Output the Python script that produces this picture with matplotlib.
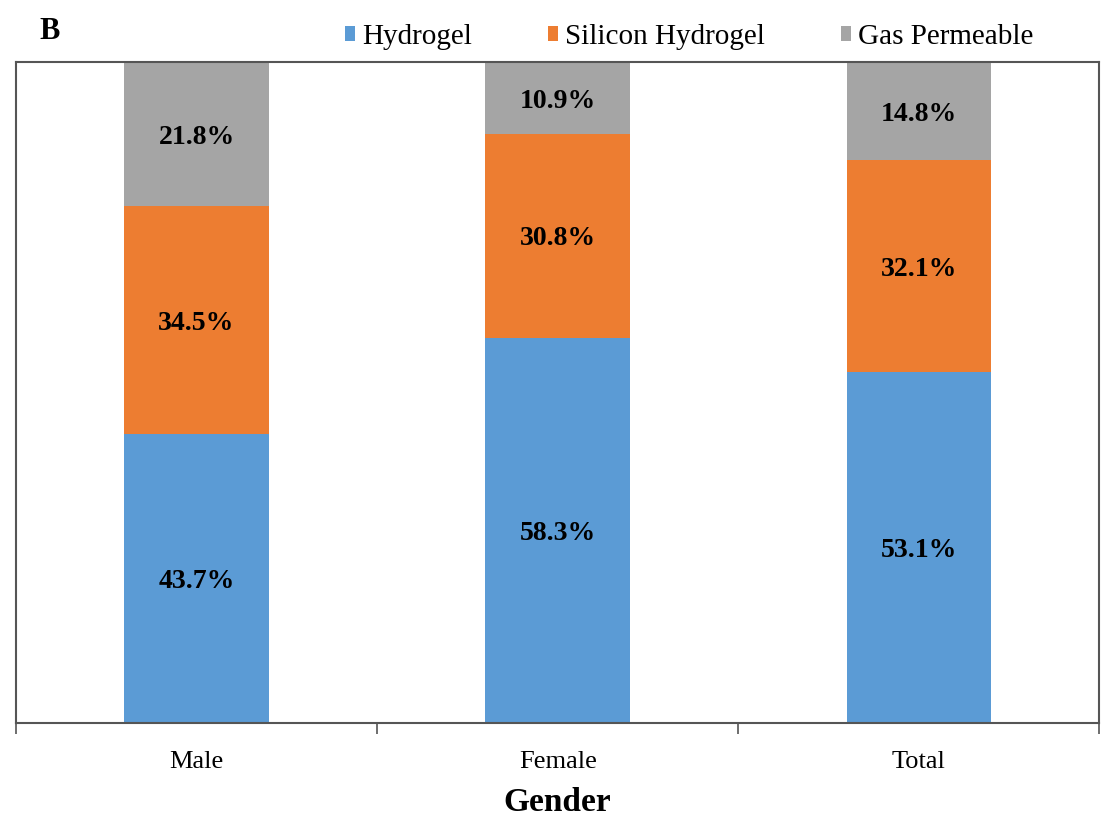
import numpy as np
import matplotlib.pyplot as plt

plt.rcParams['font.family'] = ['Liberation Serif', 'DejaVu Serif']

groups = ['Male', 'Female', 'Total']
hydrogel = [43.7, 58.3, 53.1]
silicon = [34.5, 30.8, 32.1]
gas = [21.8, 10.9, 14.8]
series = ['Hydrogel', 'Silicon Hydrogel', 'Gas Permeable']
colors = ['#5B9BD5', '#ED7D31', '#A5A5A5']

fig = plt.figure(figsize=(11.01, 8.18), dpi=100)
ax = fig.add_axes([0.0145, 0.116, 0.984, 0.808])

x = np.arange(len(groups))
bottom = np.zeros(len(groups))
for vals, name, c in zip([hydrogel, silicon, gas], series, colors):
    bars = ax.bar(x, vals, 0.4, bottom=bottom, color=c, label=name)
    for b, v in zip(bars, vals):
        ax.text(b.get_x() + b.get_width() / 2, b.get_y() + v / 2, f'{v}%',
                ha='center', va='center_baseline', fontsize=20, fontweight='bold')
    bottom += np.array(vals)

ax.set_xlim(-0.5, 2.5)
ax.set_ylim(0, 100)
ax.set_yticks([])
ax.set_xticks(x)
ax.set_xticklabels(groups, fontsize=19)
ax.tick_params(axis='x', length=0, pad=20)
ax.set_xticks([-0.5, 0.5, 1.5, 2.5], minor=True)
ax.tick_params(axis='x', which='minor', length=8, width=1.2, color='#555555')
for s in ax.spines.values():
    s.set_color('#555555')
    s.set_linewidth(1.5)
ax.set_xlabel('Gender', fontsize=24, fontweight='bold', labelpad=10)

fig.legend(loc='center', bbox_to_anchor=(0.626, 0.955), ncol=3,
           frameon=False, fontsize=21, handlelength=0.35, handleheight=0.45,
           handletextpad=0.25, columnspacing=2.6)
fig.text(0.036, 0.962, 'B', fontsize=22, fontweight='bold', va='center')

fig.savefig('out.png', dpi=100)
